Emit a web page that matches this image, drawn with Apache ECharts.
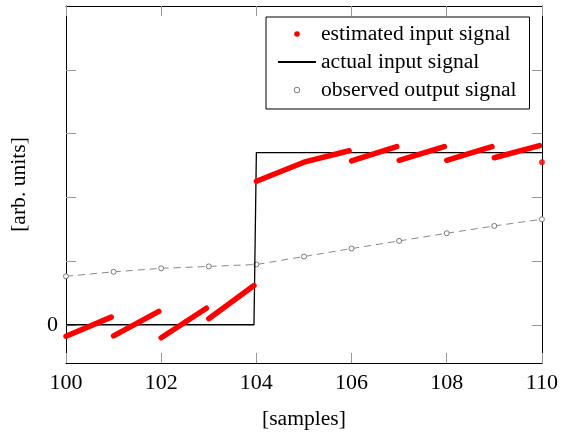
<!DOCTYPE html>
<html>
<head>
<meta charset="utf-8">
<script src="https://cdn.jsdelivr.net/npm/echarts@6/dist/echarts.min.js"></script>
<style>
  html, body { margin: 0; padding: 0; background: #fff; }
  #chart { width: 561px; height: 435px; }
</style>
</head>
<body>
<div id="chart"></div>
<script>
  // sample axis
  var xTicks = [100, 102, 104, 106, 108, 110];
  var yTicks = [0, 1, 2, 3, 4];
  var yLabels = [0];

  // estimated input signal, one piece per sample block
  var estimated = [
    [[100, -0.18], [100.95, 0.12]],
    [[101, -0.175], [101.95, 0.21]],
    [[102, -0.205], [102.95, 0.26]],
    [[103, 0.095], [103.95, 0.615]],
    [[104, 2.25], [105, 2.55], [105.95, 2.73]],
    [[106, 2.57], [106.95, 2.795]],
    [[107, 2.58], [107.95, 2.795]],
    [[108, 2.58], [108.95, 2.795]],
    [[109, 2.62], [109.95, 2.81]]
  ];
  var estimatedLast = [[110, 2.55]];

  // actual input signal (step)
  var actual = [[100, 0], [103.95, 0], [104, 2.7], [110, 2.7]];

  // observed output signal
  var observedX = [100, 101, 102, 103, 104, 105, 106, 107, 108, 109, 110];
  var observedY = [0.76, 0.83, 0.885, 0.915, 0.945, 1.07, 1.195, 1.315, 1.435, 1.55, 1.655];

  var font = 'Liberation Serif';

  var estData = [];
  estimated.forEach(function (seg, i) {
    if (i > 0) estData.push([seg[0][0] - 0.02, '-']);
    seg.forEach(function (p) { estData.push(p); });
  });

  var chart = echarts.init(document.getElementById('chart'));

  var option = {
    animation: false,
    textStyle: { fontFamily: font, color: '#000' },
    grid: { left: 65, right: 18, top: 6, bottom: 69 },
    legend: {
      orient: 'vertical',
      left: 266,
      top: 17,
      padding: [6, 13, 8, 11],
      borderColor: '#000',
      borderWidth: 1,
      borderRadius: 0,
      itemWidth: 38,
      itemHeight: 7,
      itemGap: 6,
      textStyle: { fontFamily: font, fontSize: 21.6, color: '#000', lineHeight: 21 },
      data: [
        { name: 'estimated input signal', lineStyle: { opacity: 0 }, itemStyle: { color: '#ff0000', borderWidth: 0 } },
        { name: 'actual input signal', itemStyle: { opacity: 0 } },
        { name: 'observed output signal', lineStyle: { opacity: 0 }, itemStyle: { color: '#fff', borderColor: '#777', borderWidth: 1 } }
      ]
    },
    xAxis: [{
      type: 'value',
      min: 100,
      max: 110,
      interval: 2,
      name: '[samples]',
      nameLocation: 'middle',
      nameGap: 45,
      nameTextStyle: { fontFamily: font, fontSize: 21.6, color: '#000' },
      axisLine: { show: true, onZero: false, lineStyle: { color: '#000', width: 1 } },
      axisTick: { inside: true, length: 10, lineStyle: { color: '#999' } },
      axisLabel: { fontFamily: font, fontSize: 22, color: '#000', margin: 9 },
      splitLine: { show: false }
    }, {
      type: 'value',
      position: 'top',
      min: 100,
      max: 110,
      interval: 2,
      axisLine: { show: true, onZero: false, lineStyle: { color: '#000', width: 1 } },
      axisTick: { inside: true, length: 10, lineStyle: { color: '#999' } },
      axisLabel: { show: false },
      splitLine: { show: false }
    }],
    yAxis: [{
      type: 'value',
      min: -0.6,
      max: 5,
      name: '[arb. units]',
      nameLocation: 'middle',
      nameGap: 36,
      nameTextStyle: { fontFamily: font, fontSize: 21.6, color: '#000' },
      axisLine: { show: true, onZero: false, lineStyle: { color: '#000', width: 1 } },
      axisTick: { inside: true, length: 10, customValues: yTicks, lineStyle: { color: '#999' } },
      axisLabel: { fontFamily: font, fontSize: 22, color: '#000', margin: 8, padding: [5, 0, 0, 0], customValues: yLabels },
      splitLine: { show: false }
    }, {
      type: 'value',
      position: 'right',
      min: -0.6,
      max: 5,
      axisLine: { show: true, onZero: false, lineStyle: { color: '#000', width: 1 } },
      axisTick: { inside: true, length: 10, customValues: yTicks, lineStyle: { color: '#999' } },
      axisLabel: { show: false },
      splitLine: { show: false }
    }],
    series: [{
      name: 'estimated input signal',
      type: 'line',
      data: estData,
      symbol: 'circle',
      showSymbol: false,
      connectNulls: false,
      itemStyle: { color: '#ff0000' },
      lineStyle: { color: '#ff0000', width: 5.5, cap: 'round', join: 'round' },
      z: 4
    }, {
      name: 'estimated input signal',
      type: 'scatter',
      data: estimatedLast,
      symbol: 'circle',
      symbolSize: 6,
      itemStyle: { color: '#ff0000' },
      z: 4
    }, {
      name: 'actual input signal',
      type: 'line',
      data: actual,
      symbol: 'none',
      itemStyle: { color: '#000' },
      lineStyle: { color: '#000', width: 1.3 },
      z: 3
    }, {
      name: 'observed output signal',
      type: 'line',
      data: observedX.map(function (x, i) { return [x, observedY[i]]; }),
      symbol: 'circle',
      symbolSize: 5,
      showSymbol: true,
      itemStyle: { color: '#fff', borderColor: '#777', borderWidth: 1 },
      lineStyle: { color: '#888', width: 1, type: [7, 5] },
      z: 2
    }]
  };

  chart.setOption(option);
</script>
</body>
</html>
